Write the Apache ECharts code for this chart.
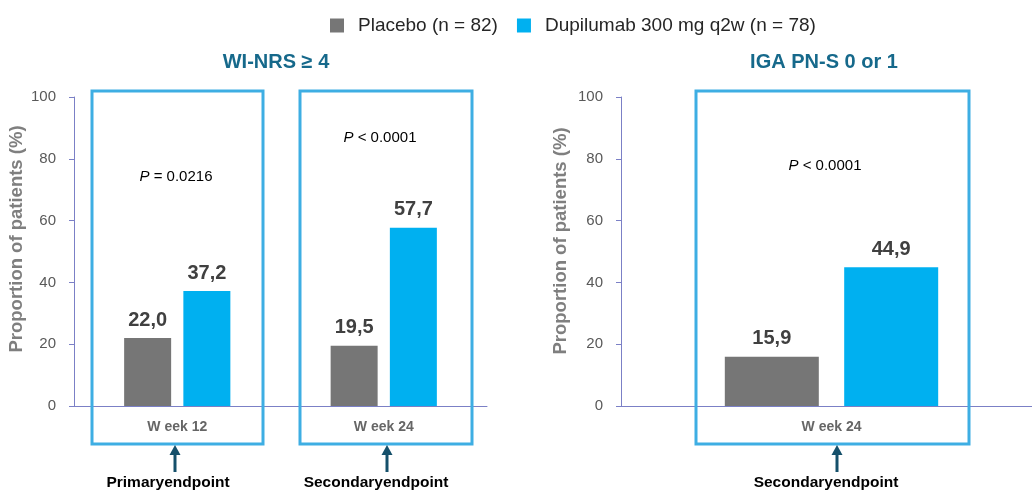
<!DOCTYPE html>
<html><head><meta charset="utf-8">
<script src="https://cdn.jsdelivr.net/npm/echarts@6/dist/echarts.min.js"></script>
<style>html,body{margin:0;padding:0;background:#fff}#c{width:1032px;height:493px}</style>
</head><body><div id="c"></div>
<script>
var seriesNames = ['Placebo (n = 82)', 'Dupilumab 300 mg q2w (n = 78)'];
var leftCategories = ['W eek 12', 'W eek 24'];
var rightCategories = ['W eek 24'];
var leftPlacebo = [22.0, 19.5];
var leftDupilumab = [37.2, 57.7];
var rightPlacebo = [15.9];
var rightDupilumab = [44.9];
var yTicks = [0, 20, 40, 60, 80, 100];
var panelTitles = ['WI-NRS \u2265 4', 'IGA PN-S 0 or 1'];
var yAxisName = 'Proportion of patients (%)';
var pValues = ['{i|P} = 0.0216', '{i|P} < 0.0001', '{i|P} < 0.0001'];
var endpointLabels = ['Primaryendpoint', 'Secondaryendpoint', 'Secondaryendpoint'];

var FONT = '"Liberation Sans", Arial, sans-serif';
var GRAY = '#767676', BLUE = '#00b0f0', AXIS = '#7b80c6', BOX = '#3eaee3', ARROW = '#15506b';
var fmt = function (p) { return p.value.toFixed(1).replace('.', ','); };

function yAxis(gi, off) {
  return {
    gridIndex: gi, type: 'value', min: yTicks[0], max: yTicks[yTicks.length - 1], interval: yTicks[1] - yTicks[0],
    offset: off || 0,
    axisLine: { show: true, lineStyle: { color: AXIS, width: 1 } },
    axisTick: { show: true, length: 5, lineStyle: { color: AXIS } },
    axisLabel: { fontFamily: FONT, fontSize: 15, color: '#595959', margin: 18 },
    splitLine: { show: false }
  };
}
function xAxis(gi, cats) {
  return {
    gridIndex: gi, type: 'category', data: cats,
    axisLine: { lineStyle: { color: AXIS, width: 1 } },
    axisTick: { show: false },
    axisLabel: { fontFamily: FONT, fontSize: 14, fontWeight: 'bold', color: '#666', margin: 14 }
  };
}
var labelCfg = { show: true, position: 'top', distance: 8, formatter: fmt,
  fontFamily: FONT, fontSize: 20, fontWeight: 'bold', color: '#404040' };

function box(x1, x2) {
  return { type: 'rect', shape: { x: x1, y: 91, width: x2 - x1, height: 353 },
    style: { fill: 'none', stroke: BOX, lineWidth: 3 }, z: 10 };
}
function arrow(x) {
  return [
    { type: 'line', shape: { x1: x, y1: 452, x2: x, y2: 472 }, style: { stroke: ARROW, lineWidth: 3 }, z: 10 },
    { type: 'polygon', shape: { points: [[x, 445], [x - 5.5, 455], [x + 5.5, 455]] }, style: { fill: ARROW }, z: 10 }
  ];
}
function txt(x, y, t, size, weight, color, rot) {
  return { type: 'text', x: x, y: y, z: 10, rotation: rot || 0,
    style: { text: t, fontFamily: FONT, fontSize: size, fontWeight: weight || 'normal', fill: color || '#000',
      align: 'center', verticalAlign: 'middle',
      rich: { i: { fontStyle: 'italic', fontFamily: FONT, fontSize: size, fill: color || '#000' } } } };
}

var graphics = [box(92, 263), box(300, 472), box(696, 969)]
  .concat(arrow(175), arrow(387), arrow(837))
  .concat([
    { type: 'line', shape: { x1: 616, y1: 406.5, x2: 632, y2: 406.5 }, style: { stroke: AXIS, lineWidth: 1 } },
    txt(176, 177, pValues[0], 15), txt(380, 138, pValues[1], 15), txt(825, 166, pValues[2], 15),
    txt(168, 483, endpointLabels[0], 15.5, 'bold'), txt(376, 483, endpointLabels[1], 15.5, 'bold'),
    txt(826, 483, endpointLabels[2], 15.5, 'bold'),
    txt(17, 239, yAxisName, 18.5, 'bold', '#7f7f7f', Math.PI / 2),
    txt(561, 241, yAxisName, 18.5, 'bold', '#7f7f7f', Math.PI / 2)
  ]);

var chart = echarts.init(document.getElementById('c'), null, { renderer: 'canvas' });
chart.setOption({
  backgroundColor: '#fff',
  animation: false,
  title: [
    { text: panelTitles[0], left: 271, top: 47, textAlign: 'center',
      textStyle: { fontFamily: FONT, fontSize: 20, fontWeight: 'bold', color: '#16698b' } },
    { text: panelTitles[1], left: 819, top: 47, textAlign: 'center',
      textStyle: { fontFamily: FONT, fontSize: 20, fontWeight: 'bold', color: '#16698b' } }
  ],
  legend: {
    data: seriesNames, top: 11, left: 325, itemWidth: 14, itemHeight: 14, itemGap: 19,
    icon: 'rect',
    textStyle: { fontFamily: FONT, fontSize: 19, color: '#262626', padding: [0, 0, 0, 9] }
  },
  grid: [
    { left: 74, right: 545, top: 97, bottom: 87 },
    { left: 631, right: 0, top: 97, bottom: 87 }
  ],
  xAxis: [xAxis(0, leftCategories), xAxis(1, rightCategories)],
  yAxis: [yAxis(0, 0), yAxis(1, 10)],
  series: [
    { name: seriesNames[0], type: 'bar', xAxisIndex: 0, yAxisIndex: 0, data: leftPlacebo,
      barWidth: 47, barGap: '26%', itemStyle: { color: GRAY }, label: labelCfg },
    { name: seriesNames[1], type: 'bar', xAxisIndex: 0, yAxisIndex: 0, data: leftDupilumab,
      barWidth: 47, barGap: '26%', itemStyle: { color: BLUE }, label: labelCfg },
    { name: seriesNames[0], type: 'bar', xAxisIndex: 1, yAxisIndex: 1, data: rightPlacebo,
      barWidth: 94, barGap: '27%', itemStyle: { color: GRAY }, label: labelCfg },
    { name: seriesNames[1], type: 'bar', xAxisIndex: 1, yAxisIndex: 1, data: rightDupilumab,
      barWidth: 94, barGap: '27%', itemStyle: { color: BLUE }, label: labelCfg }
  ],
  graphic: graphics
});
</script></body></html>
